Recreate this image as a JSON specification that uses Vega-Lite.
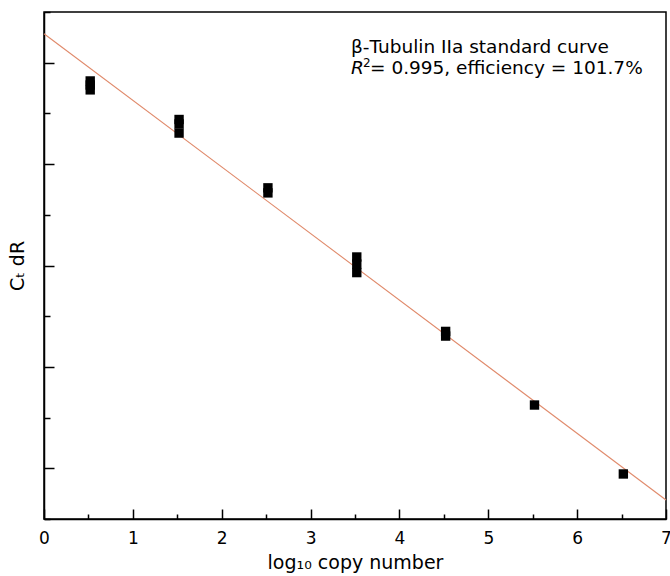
{
  "$schema": "https://vega.github.io/schema/vega-lite/v6.json",
  "width": 622,
  "height": 507,
  "autosize": {"type": "none"},
  "padding": {"left": 44, "top": 12, "right": 4, "bottom": 57},
  "background": "white",
  "config": {
    "view": {"stroke": "#000000", "strokeWidth": 1.5},
    "font": "DejaVu Sans",
    "axis": {"domainColor": "#000000", "domainWidth": 1.5, "tickColor": "#000000", "tickWidth": 1.5, "grid": false, "labelColor": "#000000", "titleColor": "#000000", "labelFont": "DejaVu Sans", "titleFont": "DejaVu Sans", "titleFontWeight": "normal"}
  },
  "datasets": {
    "pts": [
      {"log_copies": 0.52, "ct": 34.1},
      {"log_copies": 0.52, "ct": 33.9},
      {"log_copies": 0.52, "ct": 33.66},
      {"log_copies": 1.52, "ct": 32.2},
      {"log_copies": 1.52, "ct": 31.98},
      {"log_copies": 1.52, "ct": 31.53},
      {"log_copies": 2.52, "ct": 28.83},
      {"log_copies": 2.52, "ct": 28.58},
      {"log_copies": 3.52, "ct": 25.42},
      {"log_copies": 3.52, "ct": 25.07},
      {"log_copies": 3.52, "ct": 24.65},
      {"log_copies": 4.52, "ct": 21.75},
      {"log_copies": 4.52, "ct": 21.52},
      {"log_copies": 5.52, "ct": 18.12},
      {"log_copies": 6.52, "ct": 14.72}
    ],
    "fit": [
      {"log_copies": 0, "ct": 36.43},
      {"log_copies": 7, "ct": 13.44}
    ],
    "note": [
      {"label": "annotation"}
    ]
  },
  "resolve": {"axis": {"x": "independent", "y": "independent"}},
  "layer": [
    {
      "data": {"name": "fit"},
      "mark": {"type": "line", "color": "#e08a6b", "strokeWidth": 1.1},
      "encoding": {
        "x": {"field": "log_copies", "type": "quantitative", "scale": {"domain": [0, 7], "nice": false, "zero": false},
              "axis": {"orient": "bottom", "values": [0.5, 1.5, 2.5, 3.5, 4.5, 5.5, 6.5], "tickSize": -5, "labels": false, "domain": false, "title": null}},
        "y": {"field": "ct", "type": "quantitative", "scale": {"domain": [12.5, 37.5], "nice": false, "zero": false},
              "axis": {"orient": "left", "values": [12.5, 17.5, 22.5, 27.5, 32.5, 37.5], "tickSize": -6, "labels": false, "domain": false, "title": null}}
      }
    },
    {
      "data": {"name": "pts"},
      "mark": {"type": "point", "shape": "square", "filled": true, "color": "#000000", "size": 88, "opacity": 1},
      "encoding": {
        "x": {"field": "log_copies", "type": "quantitative",
              "axis": {"orient": "bottom", "values": [0, 1, 2, 3, 4, 5, 6, 7], "tickSize": -10, "labelFontSize": 17, "labelPadding": 21, "labelFlush": false,
                       "title": "log₁₀ copy number", "titleFontSize": 19, "titlePadding": 7}},
        "y": {"field": "ct", "type": "quantitative",
              "axis": {"orient": "left", "values": [15, 20, 25, 30, 35], "tickSize": -10, "labels": false,
                       "title": "Cₜ dR", "titleFontSize": 19, "titlePadding": 16}}
      }
    },
    {
      "data": {"name": "note"},
      "mark": {"type": "text", "align": "left", "baseline": "alphabetic", "fontSize": 18.5, "color": "#000000"},
      "encoding": {"x": {"datum": 3.455, "axis": null}, "y": {"datum": 35.46, "axis": null}, "text": {"value": "β-Tubulin IIa standard curve"}}
    },
    {
      "data": {"name": "note"},
      "mark": {"type": "text", "align": "left", "baseline": "alphabetic", "fontSize": 18.5, "fontStyle": "italic", "color": "#000000"},
      "encoding": {"x": {"datum": 3.455, "axis": null}, "y": {"datum": 34.44, "axis": null}, "text": {"value": "R"}}
    },
    {
      "data": {"name": "note"},
      "mark": {"type": "text", "align": "left", "baseline": "alphabetic", "fontSize": 12, "dx": 12, "dy": -7, "color": "#000000"},
      "encoding": {"x": {"datum": 3.455, "axis": null}, "y": {"datum": 34.44, "axis": null}, "text": {"value": "2"}}
    },
    {
      "data": {"name": "note"},
      "mark": {"type": "text", "align": "left", "baseline": "alphabetic", "fontSize": 18.5, "dx": 19, "color": "#000000"},
      "encoding": {"x": {"datum": 3.455, "axis": null}, "y": {"datum": 34.44, "axis": null}, "text": {"value": "= 0.995, efficiency = 101.7%"}}
    }
  ]
}
